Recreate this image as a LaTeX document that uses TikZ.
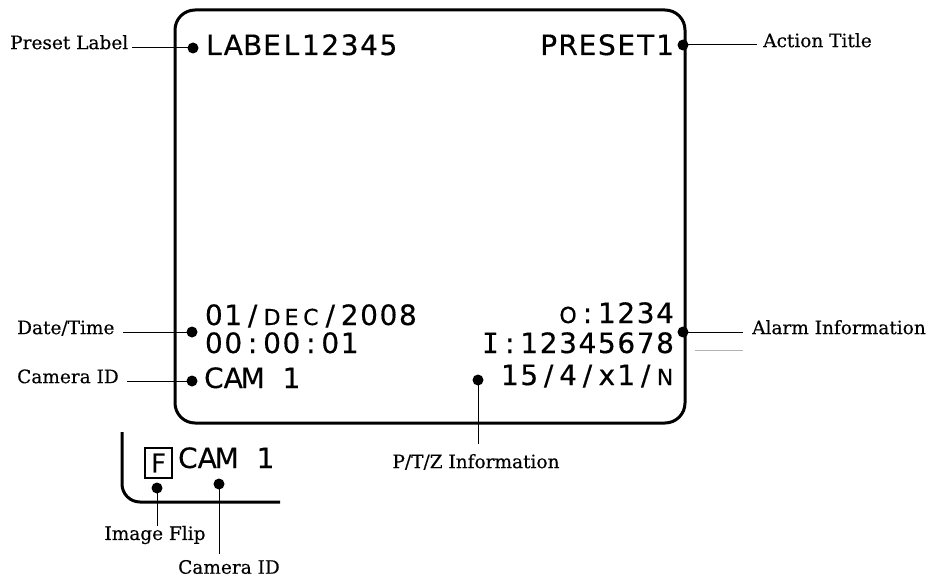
\documentclass[tikz,border=0pt]{standalone}
\usepackage{fontspec}
\newfontfamily\osdfont[FakeBold=0.4]{DejaVu Sans}
\newfontfamily\osdmono[FakeBold=0.4]{DejaVu Sans Mono}
\newfontfamily\lblfont[FakeBold=0.3]{DejaVu Serif}
\newcommand\sm[1]{{\fontsize{22}{22}\selectfont #1}}
\newcommand\monoI{{\osdmono I}}
\makeatletter
\newcommand\mono[1]{\mono@#1\relax}
\def\mono@#1{\ifx\relax#1\else\makebox[19.4pt][c]{#1}\expandafter\mono@\fi}
\makeatother
\begin{document}
\begin{tikzpicture}[x=1pt,y=-1pt,
  dot/.style={circle,fill=black,inner sep=0pt,minimum size=11pt},
  lbl/.style={font=\lblfont\fontsize{18.5}{20}\selectfont, inner sep=0pt},
  osd/.style={font=\osdfont\fontsize{28}{28}\selectfont, inner sep=0pt},
  lead/.style={line width=1pt},
  frame/.style={line width=3pt, rounded corners=20pt}]
\useasboundingbox (0,0) rectangle (929,578);
% main screen
\draw[frame] (175,10) rectangle (685,423);
% on-screen texts
\node[osd, anchor=base west] (lab) at (204,55) {\mono{LABEL12345}};
\node[osd, anchor=base east] (pre) at (675,55) {\mono{PRESET1}};
\node[osd, anchor=base west] (date) at (204,325) {\mono{01/{\sm{D}}{\sm{E}}{\sm{C}}/2008}};
\node[osd, anchor=base west] (time) at (204,353) {\mono{00:00:01}};
\node[osd, anchor=base west] (cam) at (204,388) {\mono{CAM~1}};
\node[osd, anchor=base east] (aout) at (675,323) {\mono{{\sm{O}}:1234}};
\node[osd, anchor=base east] (ain) at (675,353) {\mono{{\monoI}:12345678}};
\node[osd, anchor=base east] (ptz) at (675,385) {\mono{15/4/x1/{\sm{N}}}};
% dots
\node[dot] (dPre) at (193,48) {};
\node[dot] (dAct) at (683,45) {};
\node[dot] (dDate) at (192,332) {};
\node[dot] (dCam) at (192,381) {};
\node[dot] (dAlm) at (683,332) {};
\node[dot] (dPtz) at (478,380) {};
\node[dot] (dFlip) at (157,488) {};
\node[dot] (dCam2) at (219,484) {};
% labels
\node[lbl, anchor=mid west] (tPre) at (10,47) {Preset Label};
\node[lbl, anchor=mid west] (tAct) at (763,45) {Action Title};
\node[lbl, anchor=mid west] (tDate) at (17,332) {Date/Time};
\node[lbl, anchor=mid west] (tCam) at (17,381) {Camera ID};
\node[lbl, anchor=mid west] (tAlm) at (752,332) {Alarm Information};
\node[lbl] (tPtz) at (476,462) {P/T/Z Information};
\node[lbl] (tFlip) at (155,535) {Image Flip};
\node[lbl] (tCam2) at (229,567) {Camera ID};
% leaders
\draw[lead, shorten >=4pt] (dPre.center) -- (dPre -| tPre.east);
\draw[lead, shorten >=6pt] (dAct.center) -- (dAct -| tAct.west);
\draw[lead, shorten >=8pt] (dDate.center) -- (dDate -| tDate.east);
\draw[lead, shorten >=8pt] (dCam.center) -- (dCam -| tCam.east);
\draw[lead, shorten >=9pt] (dAlm.center) -- (dAlm -| tAlm.west);
\draw[lead, shorten >=10pt] (dPtz.center) -- (dPtz |- tPtz.north);
\draw[lead] (dFlip.center) -- (dFlip |- tFlip.north);
\draw[lead, shorten >=6pt] (dCam2.center) -- (dCam2 |- tCam2.north);
% faint grey line
\coordinate (g1) at (695,350);
\coordinate (g2) at (743,350);
\draw[black!30, line width=1pt] (g1) -- (g2);
% inset
\draw[line width=3pt, rounded corners=18pt] (122,432) -- (122,502) -- (280,502);
\node[draw, line width=2.5pt, minimum width=27pt, minimum height=30pt, inner sep=0pt,
  font=\osdfont\fontsize{26}{26}\selectfont] (fbox) at (158.5,463) {F};
\node[osd, anchor=base west] (cam2) at (178,468) {\mono{CAM~1}};
\end{tikzpicture}
\end{document}
